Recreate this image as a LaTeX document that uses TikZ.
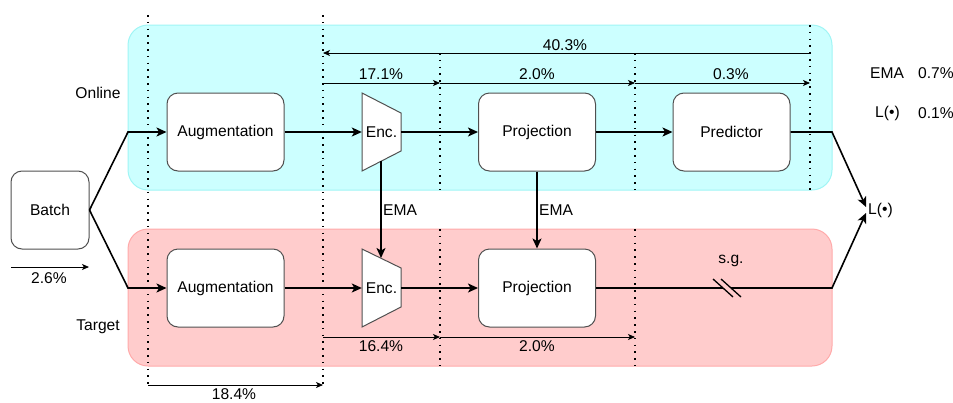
\documentclass[tikz,border=0pt]{standalone}
\usepackage{fontspec}
\setmainfont{Liberation Sans}
\usetikzlibrary{arrows.meta}
\definecolor{onlinefill}{RGB}{204,255,255}
\definecolor{onlinedraw}{RGB}{160,245,245}
\definecolor{targetfill}{RGB}{255,204,204}
\definecolor{targetdraw}{RGB}{255,170,170}
\definecolor{boxdraw}{RGB}{80,80,80}
\tikzset{
  band/.style={rounded corners=20pt, line width=1pt},
  blockbox/.style={draw=boxdraw, fill=white, rounded corners=11pt, line width=1pt, minimum width=117pt, minimum height=78pt, inner sep=0pt},
  encshape/.style={draw=boxdraw, fill=white, line width=1pt},
  enclabel/.style={minimum width=39pt, minimum height=78pt, inner sep=0pt},
  flow/.style={line width=1.6pt, -{Stealth[length=10pt,width=9pt,inset=2.5pt]}},
  flowline/.style={line width=1.6pt},
  meas/.style={line width=0.8pt, -{Stealth[length=7pt,width=6pt,inset=1.8pt]}},
  sep/.style={line width=1.6pt, dash pattern=on 1.6pt off 5.2pt, line cap=butt},
  txt/.style={inner sep=0pt, font=\fontsize{15.6}{18}\selectfont},
}
\begin{document}
\begin{tikzpicture}[x=1pt,y=-1pt]
\useasboundingbox (0,0) rectangle (953,402);
% bands
\filldraw[band, fill=onlinefill, draw=onlinedraw] (128,25) rectangle (832,190);
\filldraw[band, fill=targetfill, draw=targetdraw] (128,229) rectangle (832,366);
% separators
\draw[sep] (148,15) -- (148,386);
\draw[sep] (323,15) -- (323,386);
\draw[sep] (440,53) -- (440,190);
\draw[sep] (635,53) -- (635,190);
\draw[sep] (810,25) -- (810,190);
\draw[sep] (440,229) -- (440,366);
\draw[sep] (635,229) -- (635,366);
% nodes
\node[blockbox, txt, minimum width=78pt] (batch) at (50,210) {Batch};
\node[blockbox, txt] (aug1) at (225.5,132) {Augmentation};
\node[blockbox, txt] (aug2) at (225.5,288) {Augmentation};
\node[blockbox, txt] (proj1) at (537,132) {Projection};
\node[blockbox, txt] (proj2) at (537,288) {Projection};
\node[blockbox, txt] (pred) at (731.5,132) {Predictor};
% encoders
\draw[encshape] (362,93) -- (401,113) -- (401,151) -- (362,171) -- cycle;
\draw[encshape] (362,249) -- (401,268) -- (401,307) -- (362,327) -- cycle;
\node[enclabel, txt] (enc1) at (381.5,132) {Enc.};
\node[enclabel, txt] (enc2) at (381.5,288) {Enc.};
\coordinate (enc1b) at (381,161);
\coordinate (enc2t) at (381,258);
\node[txt, anchor=west, inner sep=2pt] (loss) at (866,210) {L(•)};
% corners
\coordinate (c1) at (128,132);
\coordinate (c2) at (128,288);
\coordinate (c3) at (832,132);
\coordinate (c4) at (832,288);
\coordinate (sgA) at (723,288);
\coordinate (sgB) at (731,288);
% flow
\draw[flow] (batch.east) -- (c1) -- (aug1.west);
\draw[flow] (batch.east) -- (c2) -- (aug2.west);
\draw[flow] (aug1.east) -- (enc1.west);
\draw[flow] (aug2.east) -- (enc2.west);
\draw[flow] (enc1.east) -- (proj1.west);
\draw[flow] (enc2.east) -- (proj2.west);
\draw[flow] (proj1.east) -- (pred.west);
\draw[flow] (pred.east) -- (c3) -- ([yshift=3pt]loss.west);
\draw[flowline] (proj2.east) -- (sgA);
\draw[flow] (sgB) -- (c4) -- ([yshift=-3pt]loss.west);
\draw[line width=1.3pt] ([shift={(-10,-9)}]sgA) -- ([shift={(10,9)}]sgA);
\draw[line width=1.3pt] ([shift={(-10,-9)}]sgB) -- ([shift={(10,9)}]sgB);
\draw[flow] (enc1b) -- (enc2t);
\draw[flow] (proj1.south) -- (proj2.north);
% measurement arrows
\coordinate (m40a) at (810,53); \coordinate (m40b) at (323,53);
\coordinate (m17a) at (323,83); \coordinate (m17b) at (440,83);
\coordinate (m20b) at (635,83); \coordinate (m03b) at (810,83);
\coordinate (m16a) at (323,337); \coordinate (m16b) at (440,337);
\coordinate (m20c) at (635,337);
\coordinate (m18a) at (148,385); \coordinate (m18b) at (323,385);
\coordinate (m26a) at (11,267); \coordinate (m26b) at (89,267);
\draw[meas] (m40a) -- (m40b);
\draw[meas] (m17a) -- (m17b);
\draw[meas] (m17b) -- (m20b);
\draw[meas] (m20b) -- (m03b);
\draw[meas] (m16a) -- (m16b);
\draw[meas] (m16b) -- (m20c);
\draw[meas] (m18a) -- (m18b);
\draw[meas] (m26a) -- (m26b);
% labels
\node[txt] (l40) at (565,45) {40.3\%};
\node[txt] (l17) at (381,74) {17.1\%};
\node[txt] (l20a) at (537,74) {2.0\%};
\node[txt] (l03) at (731,74) {0.3\%};
\node[txt] (l16) at (381,346) {16.4\%};
\node[txt] (l20b) at (537,346) {2.0\%};
\node[txt] (l18) at (234,394) {18.4\%};
\node[txt] (l26) at (49,278) {2.6\%};
\node[txt] (lonline) at (98,93) {Online};
\node[txt] (ltarget) at (98,327) {Target};
\node[txt] (lema1) at (400,210) {EMA};
\node[txt] (lema2) at (556,210) {EMA};
\node[txt] (lsg) at (731,261) {s.g.};
\node[txt, anchor=west] (lemaL) at (870,73) {EMA};
\node[txt, anchor=west] (lemaV) at (918,73) {0.7\%};
\node[txt, anchor=west] (lossL) at (875,113) {L(•)};
\node[txt, anchor=west] (lossV) at (918,113) {0.1\%};
\end{tikzpicture}
\end{document}
